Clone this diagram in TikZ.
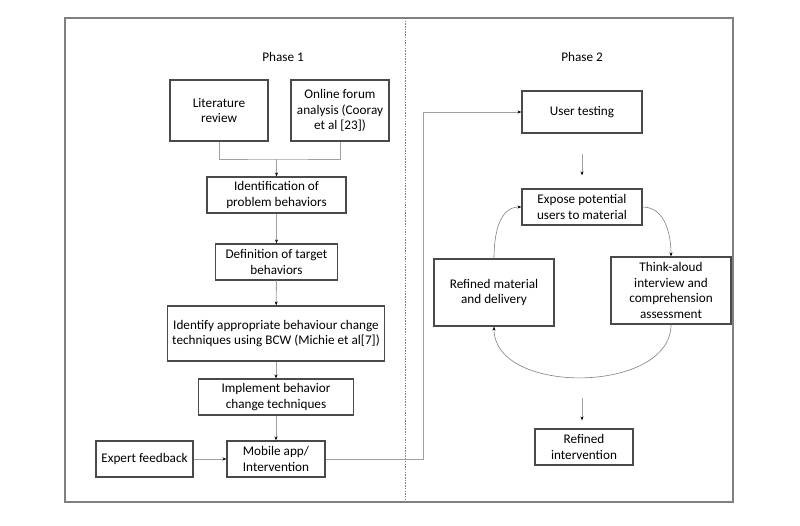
\documentclass[tikz,border=0pt]{standalone}
\usepackage{fontspec}
\setmainfont{Carlito}
\usetikzlibrary{arrows.meta}
\definecolor{boxc}{HTML}{4A4A4A}
\definecolor{linec}{HTML}{A0A0A0}
\definecolor{framec}{HTML}{808080}
\begin{document}
\begin{tikzpicture}[x=1pt,y=-1pt,
  box/.style={draw=boxc, line width=1.2pt, align=center, inner sep=0pt, font=\fontsize{13.2}{15.5}\selectfont},
  lbl/.style={font=\fontsize{13.2}{15.5}\selectfont},
  conn/.style={draw=linec, line width=0.9pt, -{Stealth[length=4pt,width=3pt,color=black]}},
  plain/.style={draw=linec, line width=0.9pt},
  curv/.style={draw=framec, line width=0.6pt, -{Stealth[length=4pt,width=3pt,color=black]}}]
\useasboundingbox (0,0) rectangle (800,526);
\draw[framec, line width=1.6pt] (65,18) rectangle (733,502);
\coordinate (dtop) at (405,18);
\coordinate (dbot) at (405,502);
\draw[framec, line width=0.6pt, dash pattern=on 1.5pt off 1.2pt] (dtop) -- (dbot);

\node[lbl] (ph1) at (283,57) {Phase 1};
\node[lbl] (ph2) at (582,57) {Phase 2};

\node[box, minimum width=98, minimum height=61] (lit) at (219,110.5) {Literature\\review};
\node[box, minimum width=98, minimum height=61] (onl) at (340,110.5) {Online forum\\analysis (Cooray\\et al [23])};
\node[box, minimum width=139, minimum height=36] (ident) at (276.5,195) {Identification of\\problem behaviors};
\node[box, minimum width=122, minimum height=36] (def) at (276.5,262) {Definition of target\\behaviors};
\node[box, minimum width=217, minimum height=55] (bcw) at (276,333.5) {Identify appropriate behaviour change\\techniques using BCW (Michie et al[7])};
\node[box, minimum width=155, minimum height=36] (impl) at (276,397) {Implement behavior\\change techniques};
\node[box, minimum width=98, minimum height=36] (mob) at (276,459) {Mobile app/\\Intervention};
\node[box, minimum width=97, minimum height=36] (exp) at (144.5,459) {Expert feedback};

\node[box, minimum width=120, minimum height=42] (ut) at (582,112) {User testing};
\node[box, minimum width=120, minimum height=36] (expo) at (582,207) {Expose potential\\users to material};
\node[box, minimum width=120, minimum height=67] (rm) at (494,292.5) {Refined material\\and delivery};
\node[box, minimum width=120, minimum height=67] (ta) at (671,290.5) {Think-aloud\\interview and\\comprehension\\assessment};
\node[box, minimum width=98, minimum height=36] (ri) at (584,447) {Refined\\intervention};

% Phase 1 connectors
\coordinate (merge) at (276.5,159);
\draw[plain] (lit.south) |- (merge) -| (onl.south);
\draw[conn] (merge) -- (ident.north);
\draw[conn] (ident) -- (def);
\draw[conn] (def) -- (bcw);
\draw[conn] (bcw) -- (impl);
\draw[conn] (impl) -- (mob);
\draw[conn] (exp) -- (mob);
\coordinate (turn) at (423,459);
\draw[conn] (mob.east) -- (turn) |- (ut.west);

% Phase 2 connectors
\draw[conn, shorten <=20pt, shorten >=13pt] (ut) -- (expo);
\draw[curv] (expo.east) to[out=0,in=90] (ta.north);
\draw[curv] (rm.north) to[out=90,in=180] (expo.west);
\draw[curv] (ta.south) to[out=-90,in=-90] (rm.south);
\coordinate (loopbot) at (582,377);
\draw[conn, shorten <=21pt, shorten >=8pt] (loopbot) -- (ri.north -| loopbot);
\end{tikzpicture}
\end{document}
